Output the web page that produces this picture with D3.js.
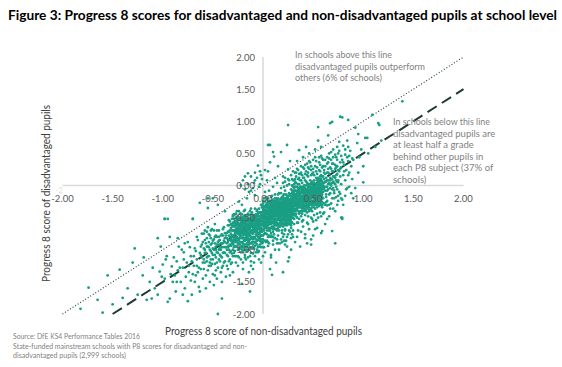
<!DOCTYPE html>
<html>
<head>
<meta charset="utf-8">
<script src="https://cdn.jsdelivr.net/npm/d3@7"></script>
<style>
  body { margin: 0; background: #fff; }
  svg { display: block; }
  text { font-family: Lato, "Liberation Sans", sans-serif; }
</style>
</head>
<body>
<div id="chart"></div>
<script>
// school-level Progress 8 scores, pairs of (non-disadvantaged, disadvantaged) x 100
var tailLeft = [
  -182,-192, -174,-159, -143,-131, -128,-98, -119,-112, -113,-150, -111,-176, -116,-178, -105,-170,
  -93,-176, -95,-181, -101,-142, -98,-145, -96,-110, -100,-123, -103,-134, -91,-126, -105,-82,
  -93,-80, -85,-82, -98,-52, -95,-52, -125,-170, -135,-160, -150,-185, -160,-198, -108,-160,
  -120,-140, -130,-120, -140,-175, -155,-140, -165,-178, -102,-95, -110,-128
];
var cloudLeft = [
  -88,-140, -86,-118, -84,-95, -82,-150, -80,-128, -79,-104, -78,-160, -76,-120, -75,-88, -74,-135,
  -72,-110, -71,-170, -70,-52, -69,-125, -68,-98, -67,-140, -66,-115, -65,-85, -64,-158, -63,-105,
  -62,-130, -61,-92, -60,-120, -89,-112, -87,-165, -83,-128, -81,-100, -77,-142, -73,-96, -71,-118,
  -68,-150, -66,-80, -64,-128, -62,-108, -60,-145, -90,-150, -85,-132, -79,-115, -75,-180, -70,-138,
  -67,-102, -63,-165, -61,-75, -97,-115, -92,-138, -78,-90, -74,-125, -69,-110, -65,-135, -62,-95,
  -86,-150, -80,-170, -72,-148, -66,-125, -61,-112, -63,-27, -55,-20,
  -59,-98, -58,-120, -58,-85, -57,-140, -57,-105, -56,-72, -56,-118, -55,-95, -55,-132, -54,-88,
  -54,-110, -53,-150, -53,-78, -52,-102, -52,-125, -51,-90, -51,-68, -50,-115, -50,-138, -49,-84,
  -49,-100, -48,-122, -48,-60, -47,-95, -47,-112, -46,-145, -46,-80, -45,-105, -45,-128, -44,-70,
  -44,-92, -43,-118, -43,-85, -42,-135, -42,-100, -41,-76, -41,-112, -40,-90, -40,-125, -39,-65,
  -39,-104, -38,-82, -38,-118, -37,-96, -37,-142, -36,-74, -36,-108, -35,-88, -35,-130, -34,-62,
  -34,-100, -33,-115, -33,-80, -32,-94, -32,-122, -31,-70, -31,-106, -30,-86, -30,-135, -30,-58,
  -59,-75, -57,-90, -55,-110, -53,-100, -51,-122, -49,-70, -47,-132, -45,-88, -43,-98, -41,-128,
  -39,-86, -37,-78, -35,-110, -33,-92, -31,-120, -58,-105, -56,-95, -54,-125, -52,-82, -50,-98,
  -48,-108, -46,-92, -44,-115, -42,-78, -40,-105, -38,-96, -36,-90, -34,-118, -32,-75, -30,-100,
  -59,-130, -55,-65, -51,-105, -47,-78, -43,-108, -39,-120, -35,-72, -31,-90, -48,-140, -44,-100,
  -40,-68, -36,-125, -32,-102, -52,-115, -46,-120, -42,-90, -38,-105, -34,-85, -57,-160, -49,-155,
  -41,-150, -33,-140, -45,-30, -38,-40, -55,-35, -50,-20,
  -60,-88, -58,-100, -56,-82, -54,-96, -52,-92, -50,-86, -48,-90, -46,-104, -44,-80, -42,-110,
  -40,-78, -38,-88, -36,-82, -34,-94, -32,-84, -30,-78, -58,-70, -54,-76, -50,-108, -46,-70,
  -42,-96, -38,-74, -34,-72, -30,-90, -56,-112, -52,-70, -48,-80, -44,-86, -40,-96, -36,-100,
  -32,-66, -59,-115, -53,-120, -47,-100, -41,-90, -35,-96, -31,-80
];
var cloudMid = [
  -29,-62, -29,-88, -29,-45, -28,-75, -28,-102, -28,-55, -27,-68, -27,-95, -27,-120, -26,-50,
  -26,-80, -26,-66, -25,-92, -25,-58, -25,-110, -24,-72, -24,-40, -24,-85, -23,-63, -23,-98,
  -23,-78, -22,-52, -22,-115, -22,-70, -21,-88, -21,-60, -21,-45, -20,-82, -20,-66, -20,-104,
  -19,-55, -19,-76, -19,-92, -18,-62, -18,-38, -18,-84, -17,-70, -17,-100, -17,-58, -16,-78,
  -16,-48, -16,-90, -15,-64, -15,-112, -15,-74, -14,-52, -14,-86, -14,-68, -13,-96, -13,-60,
  -13,-40, -12,-80, -12,-70, -12,-105, -11,-56, -11,-88, -11,-64, -10,-75, -10,-46, -10,-92,
  -9,-62, -9,-82, -9,-120, -8,-54, -8,-72, -8,-36, -7,-90, -7,-66, -7,-58, -6,-78, -6,-100,
  -6,-48, -5,-68, -5,-85, -5,-60, -4,-42, -4,-74, -4,-95, -3,-56, -3,-80, -3,-66, -2,-50,
  -2,-88, -2,-70, -1,-62, -1,-34, -1,-78,
  -30,-70, -28,-85, -26,-95, -24,-60, -22,-88, -20,-50, -18,-95, -16,-65, -14,-78, -12,-55,
  -10,-84, -8,-64, -6,-58, -4,-82, -2,-60, -29,-105, -27,-50, -25,-75, -23,-88, -21,-72,
  -19,-64, -17,-85, -15,-55, -13,-72, -11,-98, -9,-50, -7,-76, -5,-44, -3,-92, -1,-55,
  -28,-64, -26,-72, -24,-98, -22,-62, -20,-90, -18,-72, -16,-56, -14,-100, -12,-64, -10,-60,
  -8,-88, -6,-68, -4,-55, -2,-78, 0,-62, -29,-52, -27,-82, -25,-66, -23,-54, -21,-100,
  -19,-82, -17,-62, -15,-92, -13,-84, -11,-74, -9,-70, -7,-45, -5,-96, -3,-48, -1,-90,
  -30,-110, -26,-40, -22,-78, -18,-108, -14,-62, -10,-70, -6,-86, -2,-42, -28,-94, -24,-76,
  -20,-58, -16,-102, -12,-90, -8,-46, -4,-64, 0,-78, -27,-110, -23,-44, -19,-100, -15,-82,
  -11,-50, -7,-104, -3,-72, -25,-125, -21,-30, -17,-115, -13,-52, -9,-98, -5,-76, -1,-68,
  -29,-78, -24,-52, -20,-74, -16,-84, -12,-45, -8,-80, -4,-102, -28,-45, -22,-96, -18,-52,
  -14,-92, -10,-106, -6,-38, -2,-96, -26,-86, -20,-120, -16,-72, -12,-82, -8,-60, -4,-48,
  -26,-60, -23,-70, -19,-48, -15,-68, -11,-82, -7,-84, -3,-58, -25,-85, -21,-56, -17,-76,
  -13,-110, -9,-66, -5,-52, -1,-84, -30,-48, -27,-62, -24,-112, -22,-44, -18,-64, -14,-46,
  -10,-54, -6,-72, -2,-66, -20,-130, -12,-125, -4,-115, -16,-20, -8,-15, -24,-25, -10,-130,
  -2,-120, -14,-135, -5,31, -15,19, -18,14, -8,8, -3,2,
  -20,8, -15,2, -12,14, -10,-4, -8,20, -6,12, -4,-2, -2,16, -18,-6, -14,-10, -22,0, -9,4,
  -3,22, -1,10, -12,-8
];
var cloudCore = [
  0,-40, 0,-55, 0,-28, 1,-45, 1,-70, 1,-20, 2,-38, 2,-62, 2,-50, 3,-30, 3,-75, 3,-44, 4,-58,
  4,-22, 4,-66, 5,-35, 5,-48, 5,-80, 6,-42, 6,-25, 6,-60, 7,-52, 7,-70, 7,-32, 8,-46, 8,-18,
  8,-58, 9,-38, 9,-64, 9,-28, 10,-50, 10,-34, 10,-72, 11,-24, 11,-56, 11,-42, 12,-36, 12,-62,
  12,-14, 13,-48, 13,-30, 13,-68, 14,-40, 14,-22, 14,-54, 15,-32, 15,-60, 15,-44, 16,-26,
  16,-50, 16,-12, 17,-38, 17,-64, 17,-30, 18,-46, 18,-20, 18,-56, 19,-34, 19,-42, 19,-70,
  20,-28, 20,-52, 20,-16, 21,-40, 21,-24, 21,-60, 22,-32, 22,-48, 22,-8, 23,-44, 23,-20,
  23,-56, 24,-36, 24,-28, 24,-62, 25,-18, 25,-46, 25,-30, 26,-40, 26,-12, 26,-54, 27,-26,
  27,-36, 27,-50, 28,-20, 28,-44, 28,-6, 29,-32, 29,-58, 29,-24,
  0,-68, 2,-25, 4,-44, 6,-78, 8,-32, 10,-58, 12,-46, 14,-70, 16,-36, 18,-62, 20,-40, 22,-24,
  24,-50, 26,-30, 28,-56, 1,-58, 3,-18, 5,-62, 7,-44, 9,-50, 11,-30, 13,-58, 15,-20, 17,-46,
  19,-26, 21,-50, 23,-34, 25,-58, 27,-14, 29,-42, 0,-32, 2,-74, 4,-34, 6,-50, 8,-66, 10,-22,
  12,-54, 14,-30, 16,-60, 18,-32, 20,-64, 22,-38, 24,-16, 26,-46, 28,-30, 1,-34, 3,-56, 5,-26,
  7,-60, 9,-16, 11,-66, 13,-40, 15,-52, 17,-22, 19,-54, 21,-14, 23,-48, 25,-38, 27,-60, 29,-12,
  0,-50, 2,-42, 4,-76, 6,-34, 8,-52, 10,-42, 12,-28, 14,-62, 16,-44, 18,-40, 20,-34, 22,-56,
  24,-42, 26,-22, 28,-48, 1,-52, 3,-64, 5,-40, 7,-24, 9,-56, 11,-48, 13,-20, 15,-66, 17,-54,
  19,-18, 21,-44, 23,-26, 25,-50, 27,-40, 29,-50, 0,-24, 2,-56, 4,-50, 6,-66, 8,-40, 10,-64,
  12,-40, 14,-46, 16,-28, 18,-52, 20,-46, 22,-62, 24,-32, 26,-60, 28,-38, 1,-64, 3,-38, 5,-54,
  7,-36, 9,-44, 11,-36, 13,-52, 15,-38, 17,-58, 19,-48, 21,-32, 23,-60, 25,-24, 27,-46, 29,-36,
  0,-84, 3,-88, 6,-90, 9,-80, 12,-82, 15,-78, 18,-84, 21,-76, 24,-80, 27,-72, 1,-96, 5,-94,
  10,-92, 14,-90, 19,-88, 23,-86, 28,-82, 2,-10, 6,-8, 10,-2, 14,4, 18,-4, 22,6, 26,2, 29,10,
  4,8, 12,12, 20,14, 8,-108, 16,-100, 24,-95, 0,-110, 13,-120, 26,-112, 7,-130, 20,-135,
  25,25, 5,22, 15,30, 27,38, 11,45, 18,52, 24,63, 10,-80, 17,-90, 22,-70, 28,-66, 4,-86,
  11,-76, 19,-74, 26,-70, 2,-86, 8,-74, 14,-84, 21,-86, 29,-76,
  5,-30, 6,-44, 7,-40, 8,-28, 9,-34, 10,-46, 11,-40, 12,-32, 13,-36, 14,-26, 15,-42, 16,-34,
  17,-42, 18,-36, 19,-30, 20,-38, 21,-28, 22,-42, 23,-30, 24,-46, 25,-34, 26,-36, 27,-30,
  28,-34, 29,-28, 5,-44, 7,-28, 9,-40, 11,-52, 13,-44, 15,-28, 17,-34, 19,-38, 21,-36, 23,-40,
  25,-42, 27,-22, 29,-46, 6,-54, 8,-48, 10,-38, 12,-48, 14,-36, 16,-40, 18,-28, 20,-22,
  22,-30, 24,-24, 26,-28, 28,-26, 6,-36, 10,-26, 14,-52, 18,-48, 22,-20, 26,-50, 4,-28,
  8,-60, 12,-20, 16,-54, 20,-58, 24,-54, 28,-16, 2,24, 7,36, 5,63, 10,52, 7,63
];
var cloudDense = [
  -35,-62, -35,-95, -34,-78, -34,-54, -33,-70, -33,-104, -32,-60, -32,-86, -31,-52, -31,-78,
  -30,-92, -30,-64, -29,-70, -29,-96, -28,-58, -28,-80, -27,-74, -27,-44, -26,-88, -26,-56,
  -25,-68, -25,-100, -24,-64, -24,-90, -23,-50, -23,-82, -22,-58, -22,-74, -21,-94, -21,-66,
  -20,-54, -20,-78, -19,-70, -19,-40, -18,-86, -18,-58, -17,-66, -17,-92, -16,-52, -16,-74,
  -15,-44, -15,-86, -14,-60, -14,-76, -13,-66, -13,-90, -12,-50, -12,-74, -11,-62, -11,-42,
  -10,-80, -10,-56, -9,-72, -9,-46, -8,-64, -8,-94, -7,-52, -7,-70, -6,-40, -6,-62, -5,-80,
  -5,-56, -4,-68, -4,-36, -3,-62, -3,-86, -2,-54, -2,-30, -1,-72, -1,-46, 0,-58, 0,-36,
  1,-50, 1,-76, 2,-32, 2,-66, 3,-52, 3,-40, 4,-70, 4,-40, 5,-56, 5,-20, 6,-48, 6,-70, 7,-34,
  7,-56, 8,-42, 8,-78, 9,-24, 9,-58, 10,-44, 10,-30, 11,-60, 11,-34, 12,-42, 12,-68, 13,-24,
  13,-54, 14,-34, 14,-58, 15,-48, 15,-14, 16,-38, 16,-64, 17,-26, 17,-50, 18,-34, 18,-12,
  19,-44, 19,-60, 20,-30, 20,-48, 21,-20, 21,-54, 22,-36, 22,-46, 23,-14, 23,-38, 24,-26,
  24,-58, 25,-40, 25,-22, 26,-48, 26,-16, 27,-34, 27,-56, 28,-24, 28,-40, 29,-8, 29,-44,
  30,-28, 30,-14, 31,-36, 31,-52, 32,-18, 32,-2, 33,-30, 33,-44, 34,-12, 34,-28, 35,-34,
  35,-8, 36,-24, 36,-44, 37,-6, 37,-30, 38,-16, 38,-48, 39,-26, 39,-8, 40,-20, 40,-40, 41,-4,
  41,-30, 42,-14, 42,-32, 43,-22, 43,0, 44,-34, 44,-10, 45,-26, 45,2, 46,-16, 46,-34, 47,-6,
  47,-20, 48,-30, 48,4, 49,-14, 49,-40, 50,-8, 50,-26, 51,4, 51,-20, 52,-12, 52,-36, 53,-4,
  53,-22, 54,8, 54,-16, 55,-26, 55,0, 56,-12, 56,-32, 57,-4, 57,14, 58,-22, 58,6, 59,-14,
  59,-34, 60,0, 60,-20, 61,10, 61,-28, 62,-8, 62,18, 63,-2, 63,-14, 64,8, 64,-24, 65,-6, 65,20,
  66,4, 66,-30, 67,12, 67,-12, 68,0, 68,26, 69,10, 69,-20, 70,-4, 70,22, 71,14, 71,-12, 72,2,
  72,32, 73,16, 73,-18, 74,6, 74,-6, 75,24, 75,-24,
  -30,-46, -28,-110, -27,-60, -25,-48, -24,-82, -22,-104, -21,-50, -19,-86, -18,-46, -16,-96,
  -15,-60, -13,-78, -12,-36, -10,-66, -9,-88, -7,-62, -6,-92, -4,-58, -3,-42, -1,-60, 0,-88,
  1,-40, 3,-60, 4,-30, 6,-56, 7,-80, 9,-36, 10,-68, 12,-26, 13,-62, 15,-36, 16,-70, 18,-44,
  19,-22, 21,-46, 22,-68, 24,-20, 25,-52, 27,-28, 28,-62, 30,-40, 31,-8, 33,-38, 34,-58,
  36,-10, 37,-42, 39,-30, 40,-6, 42,-40, 43,-14, 45,-36, 46,-8, 48,-20, 49,2, 51,-28, 52,0,
  54,-34, 55,-6, 57,-24, 58,10,
  -29,-84, -26,-70, -23,-92, -20,-62, -17,-50, -14,-88, -11,-70, -8,-50, -5,-74, -2,-84, 1,-62,
  4,-54, 7,-46, 10,-52, 13,-34, 16,-46, 19,-36, 22,-52, 25,-32, 28,-46, 31,-24, 34,-36, 37,-22,
  40,-32, 43,-28, 46,-22, 49,-24, 52,-30, 55,-18, 58,-14,
  -27,-88, -24,-68, -21,-82, -18,-76, -15,-70, -12,-58, -9,-60, -6,-52, -3,-76, 0,-46, 3,-48,
  6,-38, 9,-48, 12,-58, 15,-46, 18,-54, 21,-38, 24,-44, 27,-42, 30,-34, 33,-20, 36,-30, 39,-18,
  42,-24, 45,-12, 48,-8, 51,-6, 54,-4, 57,-8, 60,-6,
  -28,-72, -25,-82, -22,-66, -19,-58, -16,-62, -13,-56, -10,-48, -7,-56, -4,-62, -1,-50, 2,-46,
  5,-42, 8,-36, 11,-44, 14,-42, 17,-40, 20,-42, 23,-36, 26,-34, 29,-30, 32,-26, 35,-28, 38,-22,
  41,-20, 44,-20, 47,-14, 50,-14, 53,-12, 56,-6, 59,-2,
  -26,-52, -23,-60, -20,-70, -17,-80, -14,-56, -11,-52, -8,-68, -5,-64, -2,-46, 1,-44, 4,-62,
  7,-50, 10,-36, 13,-46, 16,-52, 19,-40, 22,-28, 25,-28, 28,-52, 31,-44, 34,-20, 37,-26, 40,-24,
  43,-38, 46,-28, 49,-6, 52,-24, 55,-28, 58,-30, 61,-2, 64,-8, 67,-4, 70,6, 73,8,
  -33,-56, -31,-62, -29,-58, -27,-72, -25,-62, -23,-76, -21,-62, -19,-72, -17,-54, -15,-78,
  -13,-64, -11,-58, -9,-56, -7,-48, -5,-48, -3,-52, -1,-42, 1,-38, 3,-34, 5,-50, 7,-42, 9,-30,
  11,-38, 13,-26, 15,-24, 17,-30, 19,-32, 21,-34, 23,-22, 25,-26, 27,-24, 29,-22, 31,-18,
  33,-14, 35,-12, 37,-10, 39,-6, 41,-10, 43,-8, 45,-4, 47,-2, 49,-8, 51,-12, 53,-6, 55,4, 57,0,
  59,6, 61,4, 63,6, 65,2, 67,8, 69,4,
  20,4, 22,12, 24,0, 26,8, 28,16, 30,22, 32,10, 34,26, 36,18, 38,20, 40,28, 42,32, 44,16, 46,38,
  48,30, 50,26, 52,44, 54,28, 56,36, 58,46, 60,30, 62,40, 64,34, 66,42, 68,52, 70,44, 72,48,
  74,40, 76,54, 78,46, 80,36, 82,56, 84,44, 86,46, 21,-2, 25,10, 29,0, 33,20, 37,8, 41,12,
  45,28, 49,18, 53,22, 57,32, 61,20, 65,26, 69,34, 73,28, 77,26, 81,22, 85,16,
  -20,-96, -15,-100, -10,-98, -5,-104, 0,-96, 5,-88, 10,-86, 15,-90, 20,-80, 25,-76, 30,-80,
  35,-70, 40,-64, 45,-60, 50,-56, 55,-50, 60,-44, -18,-112, -8,-110, 2,-104, 12,-100, 22,-92,
  32,-88, 42,-76, 52,-68, 62,-60, -12,-118, 8,-112, 28,-100, 48,-84, 66,-48, 70,-36, 74,-30,
  78,-20, 82,-16
];
var cloudHigh = [
  30,-12, 30,-38, 30,8, 31,-20, 31,-4, 31,-46, 32,-28, 32,6, 32,-14, 33,-8, 33,-36, 33,14,
  34,-22, 34,-2, 34,-50, 35,-16, 35,10, 35,-30, 36,-6, 36,-40, 36,2, 37,-24, 37,18, 37,-12,
  38,-34, 38,-2, 38,-18, 39,4, 39,-28, 39,-44, 40,-10, 40,12, 40,-22, 41,-36, 41,0, 41,-14,
  42,8, 42,-26, 42,-4, 43,-18, 43,22, 43,-32, 44,-8, 44,-42, 44,4, 45,-20, 45,14, 45,-2,
  46,-30, 46,-12, 46,26, 47,2, 47,-22, 47,-38, 48,-6, 48,16, 48,-16, 49,-28, 49,6, 49,-10,
  50,-2, 50,20, 50,-24, 51,-14, 51,8, 51,-34, 52,-4, 52,30, 52,-18, 53,12, 53,-8, 53,-26,
  54,0, 54,-20, 54,18, 55,-10, 55,6, 55,-30, 56,24, 56,-4, 56,-16, 57,10, 57,-22, 57,2,
  58,-12, 58,16, 58,-28, 59,4, 59,-6, 59,28,
  30,-24, 32,-40, 34,-10, 36,-26, 38,8, 40,-34, 42,-16, 44,-24, 46,0, 48,-26, 50,-12, 52,-28,
  54,-8, 56,-26, 58,0, 31,-30, 33,-18, 35,-4, 37,-34, 39,-12, 41,-24, 43,-6, 45,-32, 47,-10,
  49,-18, 51,-2, 53,-16, 55,-20, 57,-10, 59,-18, 30,-2, 32,-22, 34,-32, 36,-14, 38,-26, 40,-2,
  42,-36, 44,-14, 46,-20, 48,-36, 50,-30, 52,-8, 54,-30, 56,8, 58,-20, 31,-10, 33,-26, 35,-22,
  37,-2, 39,-20, 41,-8, 43,-12, 45,-10, 47,-28, 49,-2, 51,-24, 53,2, 55,-2, 57,-30, 59,-10,
  30,-50, 33,-48, 36,-52, 39,-56, 42,-46, 45,-48, 48,-50, 51,-46, 54,-44, 57,-42, 31,-60,
  35,-58, 40,-54, 44,-58, 49,-52, 53,-54, 58,-48, 32,20, 35,24, 38,30, 41,26, 44,34, 47,36,
  50,40, 53,38, 56,44, 59,42, 34,38, 40,44, 46,50, 52,56, 58,60, 36,55, 43,60, 55,70, 30,-70,
  38,-72, 46,-68, 54,-66, 34,-80, 42,-82, 50,-78, 58,-74, 37,-95, 48,-92, 32,-8, 34,-16,
  36,-34, 38,-10, 40,-16, 42,-20, 44,-30, 46,-40, 48,-12, 50,-18, 52,-22, 54,-14, 56,-10,
  30,-30, 31,-16, 33,-2, 35,-40, 37,-18, 39,-36, 41,-18, 43,-26, 45,-16, 47,-16, 49,-34,
  51,-10, 53,-30, 55,-14, 57,-16, 59,-26, 30,-18, 32,-32, 34,-26, 36,-20, 38,-40, 40,-28,
  42,-10, 44,-18, 46,-26, 48,-2, 50,-6, 52,-14, 54,-24, 56,-20, 58,-6, 33,4, 36,12, 39,16,
  42,18, 45,20, 48,24, 51,16, 54,10, 57,22, 31,2, 35,2, 39,-4, 43,6, 47,8, 51,-16, 55,12, 59,14,
  60,-10, 60,14, 61,24, 61,-4, 62,6, 62,30, 63,-18, 63,12, 64,20, 64,-2, 65,36, 65,8, 66,-14,
  66,18, 67,28, 67,2, 68,10, 68,40, 69,-6, 69,22, 70,14, 70,34, 71,4, 71,-20, 72,26, 72,12,
  73,44, 73,-2, 74,18, 74,30, 75,8, 75,50, 76,22, 76,-10, 77,36, 77,14, 78,2, 78,28, 79,40,
  80,16, 80,-30, 81,32, 82,8, 82,48, 83,24, 84,-4, 85,38, 86,20, 87,54, 88,30, 89,10, 60,40,
  62,-30, 64,44, 66,50, 68,-28, 70,56, 72,-40, 74,60, 76,68, 78,-50, 80,62, 84,70, 88,-12,
  64,-52, 69,-71, 79,-52, 59,-31, 72,-90, 65,78, 61,-42, 63,-26, 67,-36, 71,-8, 75,-16,
  79,-22, 83,-6, 86,-2, 89,42
];
var outliers = [
  90,40, 92,90, 95,20, 98,56, 102,74, 104,74, 109,110, 116,94, 139,131, 100,30, 94,66, 112,60,
  96,44, 105,50, 118,70, 92,-4, 100,5, 90,-20, 85,60, 95,80, 25,94, 55,91, 67,97, 69,99,
  77,107, 79,106, 85,102, 115,97, 79,-50, 59,-71, 44,-90, 25,-118, 9,-139, -13,-165, -41,-176,
  -21,-153, -45,-200, 64,-31, 75,5, 77,-13, -70,-52, -98,-52
];
var groups = [tailLeft, cloudLeft, cloudMid, cloudCore, cloudDense, cloudHigh, outliers];

var xTicks = [-2, -1.5, -1, -0.5, 0, 0.5, 1, 1.5, 2];
var yTicks = [2, 1.5, 1, 0.5, 0, -0.5, -1, -1.5, -2];
var equalLine = [[-2, -2], [2, 2]];         // disadvantaged = others
var halfGradeLine = [[-1.5, -2], [2, 1.5]]; // half a grade behind

var title = "Figure 3: Progress 8 scores for disadvantaged and non-disadvantaged pupils at school level";
var noteAbove = ["In schools above this line", "disadvantaged pupils outperform", "others (6% of schools)"];
var noteBelow = ["In schools below this line", "disadvantaged pupils are", "at least half a grade",
  "behind other pupils in", "each P8 subject (37% of", "schools)"];
var sourceLines = ["Source: DfE KS4 Performance Tables 2016",
  "State-funded mainstream schools with P8 scores for disadvantaged and non-",
  "disadvantaged pupils (2,999 schools)"];

var points = [];
groups.forEach(function (g) {
  for (var i = 0; i < g.length; i += 2) points.push({ x: g[i] / 100, y: g[i + 1] / 100 });
});

var W = 562, H = 367;
var svg = d3.select("#chart").append("svg").attr("width", W).attr("height", H);

var x = d3.scaleLinear().domain([-2, 2]).range([62.5, 463.5]);
var y = d3.scaleLinear().domain([-2, 2]).range([314, 57]);

function fit(sel, w) {
  sel.attr("textLength", w).attr("lengthAdjust", "spacingAndGlyphs");
  return sel;
}

// title
fit(svg.append("text").attr("x", 8).attr("y", 20)
  .attr("font-size", 13).attr("font-weight", "bold").attr("fill", "#000")
  .text(title), 549);

// axis lines
svg.append("line").attr("x1", x(-2)).attr("x2", x(2)).attr("y1", y(0)).attr("y2", y(0))
  .attr("stroke", "#d9d9d9").attr("stroke-width", 1.5);
svg.append("line").attr("x1", x(0)).attr("x2", x(0)).attr("y1", y(2)).attr("y2", y(-2))
  .attr("stroke", "#d9d9d9").attr("stroke-width", 1.5);

// reference lines (under the points, as in the original)
var line = d3.line().x(function (d) { return x(d[0]); }).y(function (d) { return y(d[1]); });
svg.append("path").attr("d", line(equalLine))
  .attr("fill", "none").attr("stroke", "#2b4a40").attr("stroke-width", 1.2)
  .attr("stroke-dasharray", "1,2");
svg.append("path").attr("d", line(halfGradeLine))
  .attr("fill", "none").attr("stroke", "#1f3b31").attr("stroke-width", 2)
  .attr("stroke-dasharray", "11,6");

// points
svg.append("g").selectAll("circle")
  .data(points)
  .enter().append("circle")
  .attr("cx", function (d) { return x(d.x); })
  .attr("cy", function (d) { return y(d.y); })
  .attr("r", 1.4)
  .attr("fill", "#1a9e84");

// tick labels
var fmt = function (d) { return d3.format(".2f")(d).replace("\u2212", "-"); };
svg.append("g").selectAll("text")
  .data(xTicks)
  .enter().append("text")
  .attr("x", function (d) { return x(d); })
  .attr("y", y(0) + 16)
  .attr("text-anchor", "middle")
  .attr("font-size", 9.5)
  .attr("fill", "#595959")
  .text(fmt);

svg.append("g").selectAll("text")
  .data(yTicks)
  .enter().append("text")
  .attr("x", x(0) - 8)
  .attr("y", function (d) { return y(d) + 3.5; })
  .attr("text-anchor", "end")
  .attr("font-size", 9.5)
  .attr("fill", "#595959")
  .text(fmt);

// axis titles
fit(svg.append("text").attr("x", 165).attr("y", 335)
  .attr("font-size", 11.5).attr("fill", "#404040")
  .text("Progress 8 score of non-disadvantaged pupils"), 197);
fit(svg.append("text").attr("transform", "translate(50,282) rotate(-90)")
  .attr("font-size", 11.5).attr("fill", "#404040")
  .text("Progress 8 score of disadvantaged pupils"), 177);
svg.append("text").attr("x", 56).attr("y", 193).attr("font-size", 7)
  .attr("fill", "#dcdcdc").text("-2");

// annotations
var aboveW = [97, 130, 87];
noteAbove.forEach(function (t, i) {
  fit(svg.append("text").attr("x", 295).attr("y", 58 + i * 11.6)
    .attr("font-size", 9.5).attr("fill", "#7f7f7f").text(t), aboveW[i]);
});
noteBelow.forEach(function (t, i) {
  var el = svg.append("text").attr("x", 393).attr("y", 125 + i * 11.6)
    .attr("font-size", 9.5).attr("fill", "#7f7f7f").text(t);
  if (i === 0) fit(el, 97);
});

// source
var srcW = [127, 234, 113];
sourceLines.forEach(function (t, i) {
  fit(svg.append("text").attr("x", 13).attr("y", 339 + i * 9.7)
    .attr("font-size", 7).attr("fill", "#7f7f7f").text(t), srcW[i]);
});
</script>
</body>
</html>
